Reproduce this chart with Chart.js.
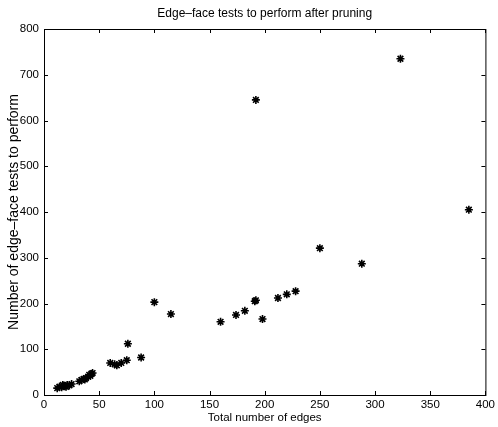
<!DOCTYPE html>
<html>
<head>
<meta charset="utf-8">
<script src="https://cdn.jsdelivr.net/npm/chart.js@4/dist/chart.umd.min.js"></script>
<style>
  html, body { margin: 0; padding: 0; background: #fff; }
  canvas { display: block; }
</style>
</head>
<body>
<canvas id="chart" width="498" height="427"></canvas>
<script>
// total edges vs. edge-face tests
const edges = [
  12, 14, 16, 17, 18, 19, 20, 21, 23, 25,
  32, 34, 36, 37, 38, 40, 41, 42, 43, 44,
  60, 64, 66, 70, 75, 76, 88,
  100, 115, 160, 174, 182, 191, 192, 198,
  212, 220, 228, 250, 288, 192, 323, 385
];
const tests = [
  15, 18, 17, 22, 20, 19, 18, 22, 21, 24,
  30, 33, 35, 34, 37, 40, 44, 42, 46, 48,
  70, 67, 65, 70, 76, 112, 82,
  203, 177, 160, 175, 184, 205, 207, 166,
  212, 220, 227, 321, 287, 645, 735, 405
];
const xTicks = [0, 50, 100, 150, 200, 250, 300, 350, 400];
const yTicks = [0, 100, 200, 300, 400, 500, 600, 700, 800];

const fam = "'Liberation Sans', Arial, sans-serif";
const tickFont = { family: fam, size: 11.5 };

// MATLAB style box with inward ticks
const boxPlugin = {
  id: "box",
  afterDraw(chart) {
    const { ctx, chartArea: a, scales } = chart;
    ctx.save();
    ctx.strokeStyle = "#000";
    ctx.lineWidth = 1;
    ctx.strokeRect(a.left + 0.5, a.top + 0.5, a.right - a.left, a.bottom - a.top);
    ctx.beginPath();
    xTicks.forEach(v => {
      const x = Math.round(scales.x.getPixelForValue(v)) + 0.5;
      ctx.moveTo(x, a.bottom); ctx.lineTo(x, a.bottom - 4);
      ctx.moveTo(x, a.top); ctx.lineTo(x, a.top + 4);
    });
    yTicks.forEach(v => {
      const y = Math.round(scales.y.getPixelForValue(v)) + 0.5;
      ctx.moveTo(a.left, y); ctx.lineTo(a.left + 4, y);
      ctx.moveTo(a.right, y); ctx.lineTo(a.right - 4, y);
    });
    ctx.stroke();
    ctx.restore();
  }
};

new Chart(document.getElementById("chart"), {
  type: "scatter",
  data: {
    datasets: [{
      data: edges.map((e, i) => ({ x: e, y: tests[i] })),
      pointStyle: "star",
      pointRadius: 4,
      borderColor: "#000",
      backgroundColor: "#000",
      borderWidth: 1.6
    }]
  },
  options: {
    responsive: false,
    animation: false,
    layout: { padding: { top: 0, right: 9, bottom: 0, left: 0 } },
    plugins: {
      legend: { display: false },
      tooltip: { enabled: false },
      title: {
        display: true,
        fullSize: false,
        text: "Edge\u2013face tests to perform after pruning",
        color: "#000",
        font: { family: fam, size: 12, weight: "normal" },
        padding: { top: 6, bottom: 8.6 }
      }
    },
    scales: {
      x: {
        type: "linear",
        min: 0, max: 400,
        afterBuildTicks: s => { s.ticks = xTicks.map(v => ({ value: v })); },
        afterFit: s => { s.height = 32; },
        ticks: { color: "#000", font: tickFont, padding: 3, maxRotation: 0 },
        grid: { display: false, drawTicks: false },
        border: { color: "#000" },
        title: {
          display: true, text: "Total number of edges", color: "#000",
          font: { family: fam, size: 11.5 }, padding: { top: 0, bottom: 2 }
        }
      },
      y: {
        type: "linear",
        min: 0, max: 800,
        afterBuildTicks: s => { s.ticks = yTicks.map(v => ({ value: v })); },
        afterFit: s => { s.width = 44; },
        ticks: { color: "#000", font: tickFont, padding: 5 },
        grid: { display: false, drawTicks: false },
        border: { color: "#000" },
        title: {
          display: true, text: "Number of edge\u2013face tests to perform", color: "#000",
          font: { family: fam, size: 14 }, padding: { top: 6, bottom: 0 }
        }
      }
    }
  },
  plugins: [boxPlugin]
});
</script>
</body>
</html>
